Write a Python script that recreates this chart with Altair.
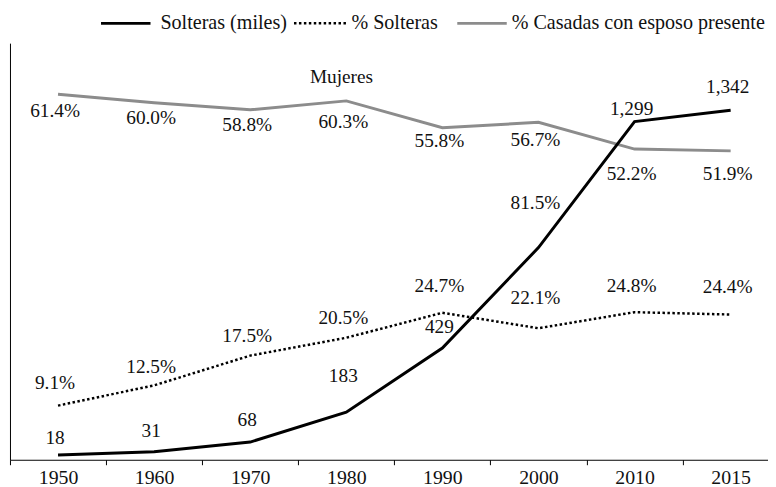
import json
import altair as alt
import pandas as pd

# ---------------- data ----------------
years = ["1950", "1960", "1970", "1980", "1990", "2000", "2010", "2015"]
solteras_miles = [18, 31, 68, 183, 429, 815, 1299, 1342]
solteras_miles_labels = ["18", "31", "68", "183", "429", "81.5%", "1,299", "1,342"]
pct_solteras = [9.1, 12.5, 17.5, 20.5, 24.7, 22.1, 24.8, 24.4]
pct_solteras_labels = ["9.1%", "12.5%", "17.5%", "20.5%", "24.7%", "22.1%", "24.8%", "24.4%"]
pct_casadas = [61.4, 60.0, 58.8, 60.3, 55.8, 56.7, 52.2, 51.9]
pct_casadas_labels = ["61.4%", "60.0%", "58.8%", "60.3%", "55.8%", "56.7%", "52.2%", "51.9%"]

legend_labels = ["Solteras (miles)", "% Solteras", "% Casadas con esposo presente"]
title_text = "Mujeres"

# label offsets in pixels relative to each point (negative = above)
dy_miles = [-17, -21, -22, -36, -21, -45, -13, -24]
dy_solteras = [-23, -19, -20, -20, -27, -30, -26, -28]
dy_casadas = [17, 16, 15, 21, 14, 18, 25, 23]

# ---------------- layout ----------------
W, H = 766, 421
STEP = 97.1
MAX_MILES, MAX_PCT = 1600, 70
FONT = "Liberation Serif"
FS = 19.5
FS_LEG = 20.3
GRAY = "#8c8c8c"
TXT = "#111111"

idx = list(range(len(years)))
df = pd.DataFrame({
    "idx": idx,
    "year": years,
    "miles": solteras_miles,
    "miles_lab": solteras_miles_labels,
    "ps": pct_solteras,
    "ps_lab": pct_solteras_labels,
    "pc": pct_casadas,
    "pc_lab": pct_casadas_labels,
})
df["miles_pos"] = [v - d * MAX_MILES / H for v, d in zip(solteras_miles, dy_miles)]
df["ps_pos"] = [v - d * MAX_PCT / H for v, d in zip(pct_solteras, dy_solteras)]
df["pc_pos"] = [v - d * MAX_PCT / H for v, d in zip(pct_casadas, dy_casadas)]

xscale = alt.Scale(domain=[-0.5, -0.5 + W / STEP], nice=False, zero=False)
label_expr = json.dumps(years) + "[round(datum.value + 0.5)]"
xaxis = alt.Axis(
    values=[i - 0.5 for i in idx], labelExpr=label_expr, labelOffset=STEP / 2,
    title=None, grid=False, tickSize=5, tickColor="black", domainColor="black",
    domainWidth=1, tickWidth=1, labelFont=FONT, labelFontSize=20, labelColor=TXT,
    labelFlush=False, labelOverlap=False, labelPadding=3,
)
X = alt.X("idx:Q", scale=xscale, axis=xaxis)

ys_m = alt.Scale(domain=[0, MAX_MILES], nice=False, zero=True)
ys_p = alt.Scale(domain=[0, MAX_PCT], nice=False, zero=True)

base = alt.Chart(df)

line_c = base.mark_line(color=GRAY, strokeWidth=3).encode(
    x=X, y=alt.Y("pc:Q", scale=ys_p, axis=None),
)
line_s = base.mark_line(color="black", strokeWidth=2.5, strokeDash=[2.5, 2.5]).encode(
    x=X, y=alt.Y("ps:Q", scale=ys_p, axis=None),
)
line_m = base.mark_line(color="black", strokeWidth=3).encode(
    x=X,
    y=alt.Y("miles:Q", scale=ys_m, axis=alt.Axis(
        title=None, labels=False, ticks=False, grid=False, domain=True,
        domainColor="black", domainWidth=1)),
)

def labels(pos, lab, scale):
    return base.mark_text(font=FONT, fontSize=FS, color=TXT, align="center",
                          baseline="middle", dx=-3).encode(
        x=X, y=alt.Y(f"{pos}:Q", scale=scale, axis=None), text=f"{lab}:N")

lab_m = labels("miles_pos", "miles_lab", ys_m)
lab_s = labels("ps_pos", "ps_lab", ys_p)
lab_c = labels("pc_pos", "pc_lab", ys_p)

one = alt.Chart(pd.DataFrame({"a": [0]}))
LY = -20
leg = [
    one.mark_rule(color="black", strokeWidth=3).encode(
        x=alt.value(92), x2=alt.value(142), y=alt.value(LY)),
    one.mark_text(text=legend_labels[0], font=FONT, fontSize=FS_LEG, color=TXT,
                  align="left", baseline="middle").encode(x=alt.value(152), y=alt.value(LY)),
    one.mark_rule(color="black", strokeWidth=2.5, strokeDash=[2.5, 2.5]).encode(
        x=alt.value(287), x2=alt.value(340), y=alt.value(LY)),
    one.mark_text(text=legend_labels[1], font=FONT, fontSize=FS_LEG, color=TXT,
                  align="left", baseline="middle").encode(x=alt.value(345), y=alt.value(LY)),
    one.mark_rule(color=GRAY, strokeWidth=3).encode(
        x=alt.value(452), x2=alt.value(502), y=alt.value(LY)),
    one.mark_text(text=legend_labels[2], font=FONT, fontSize=FS_LEG, color=TXT,
                  align="left", baseline="middle").encode(x=alt.value(507), y=alt.value(LY)),
    one.mark_text(text=title_text, font=FONT, fontSize=FS, color=TXT,
                  align="center", baseline="middle").encode(x=alt.value(335), y=alt.value(34)),
]

chart = alt.layer(
    line_c, line_s, line_m, lab_c, lab_s, lab_m, *leg
).resolve_scale(y="independent").resolve_axis(y="independent").properties(
    width=W, height=H,
    autosize=alt.AutoSizeParams(type="none"),
    padding={"left": 2, "top": 33, "right": 0, "bottom": 25},
).configure(font=FONT).configure_text(font=FONT).configure_view(stroke=None)

chart.save("out.html", embed_options={"renderer": "svg", "actions": False})
